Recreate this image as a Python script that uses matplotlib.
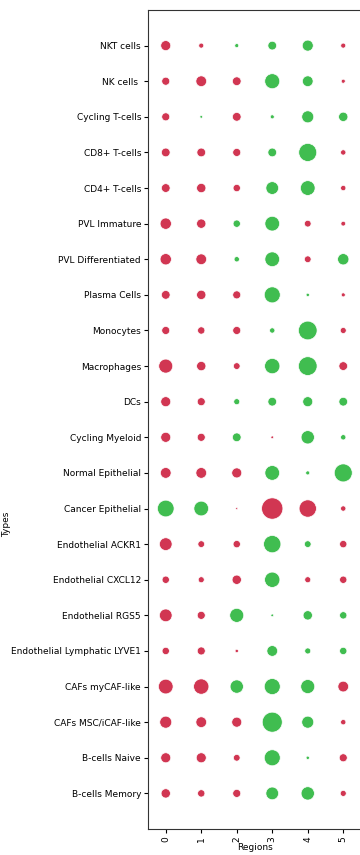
import numpy as np
import matplotlib
matplotlib.use("Agg")
import matplotlib.pyplot as plt

# cell types (top to bottom) and regions
types = ["NKT cells", "NK cells ", "Cycling T-cells", "CD8+ T-cells", "CD4+ T-cells",
         "PVL Immature", "PVL Differentiated", "Plasma Cells", "Monocytes", "Macrophages",
         "DCs", "Cycling Myeloid", "Normal Epithelial", "Cancer Epithelial",
         "Endothelial ACKR1", "Endothelial CXCL12", "Endothelial RGS5",
         "Endothelial Lymphatic LYVE1", "CAFs myCAF-like", "CAFs MSC/iCAF-like",
         "B-cells Naive", "B-cells Memory"]
regions = [0, 1, 2, 3, 4, 5]

# signed score per type/region (negative = depleted, positive = enriched)
scores = [
    [-10.0, -5.0, 4.0, 8.7, 11.0, -5.0],
    [-8.0, -10.7, -8.7, 15.0, 10.7, -4.0],
    [-8.0, 2.7, -8.7, 4.0, 12.0, 9.3],
    [-8.7, -8.7, -8.0, 8.7, 18.0, -5.3],
    [-8.7, -9.3, -7.3, 12.7, 14.7, -5.3],
    [-11.3, -9.3, 7.3, 14.7, -6.7, -4.7],
    [-11.3, -10.7, 5.3, 14.7, -6.7, 11.3],
    [-8.7, -9.3, -8.0, 16.0, 3.3, -4.0],
    [-8.0, -7.3, -8.0, 5.3, 18.7, -6.0],
    [-14.0, -9.3, -6.7, 15.3, 18.7, -8.7],
    [-10.0, -8.0, 6.0, 8.7, 10.0, 8.7],
    [-10.0, -8.0, 8.7, -2.7, 13.3, 5.3],
    [-10.7, -10.7, -10.0, 14.7, 4.0, 18.0],
    [16.7, 14.7, -2.0, -21.3, -17.3, -5.3],
    [-12.7, -6.7, -7.3, 17.3, 6.7, -7.3],
    [-7.3, -6.0, -9.3, 15.3, -6.0, -7.3],
    [-12.7, -8.0, 14.0, 2.7, 9.3, 7.3],
    [-7.3, -8.0, -3.3, 10.7, 6.0, 7.3],
    [-14.7, -15.3, 13.3, 16.0, 14.0, -10.7],
    [-12.0, -10.7, -10.0, 20.0, 12.0, -5.3],
    [-10.0, -10.0, -6.7, 16.0, 3.3, -8.0],
    [-9.3, -7.3, -8.0, 12.7, 13.3, -6.0],
]

RED = "#d13652"
GREEN = "#40bd50"

fig = plt.figure(figsize=(3.6, 8.55), dpi=100)
ax = fig.add_axes([148 / 360, 26 / 855, 213 / 360, 819 / 855])

xs, ys, sizes, colors = [], [], [], []
for i, row in enumerate(scores):
    for j, v in enumerate(row):
        xs.append(regions[j])
        ys.append(i)
        sizes.append((abs(v) * 0.72) ** 2)
        colors.append(GREEN if v > 0 else RED)

ax.scatter(xs, ys, s=sizes, c=colors, edgecolors="white", linewidths=0.5, zorder=3)

ax.set_xlim(-0.5, 5.5)
ax.set_ylim(len(types), -1)
ax.set_yticks(range(len(types)))
ax.set_yticklabels(types, fontsize=6.5)
ax.set_xticks(regions)
ax.set_xticklabels([str(r) for r in regions], rotation=90, fontsize=6.5)
ax.tick_params(length=3, width=0.8, pad=2)
ax.set_xlabel("Regions", fontsize=6.5, labelpad=1)
ax.set_ylabel("Types", fontsize=6.5)
ax.yaxis.set_label_coords(-0.645, 0.372)
for sp in ax.spines.values():
    sp.set_color("#333333")
    sp.set_linewidth(0.8)

fig.savefig("out.png", dpi=100)
